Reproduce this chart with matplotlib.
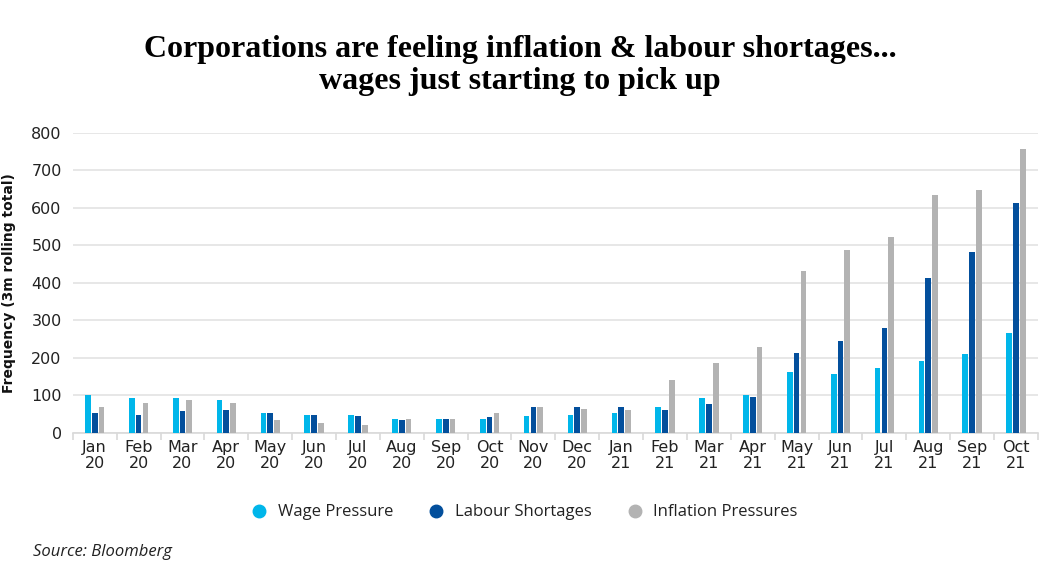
import numpy as np
import matplotlib
matplotlib.use("Agg")
import matplotlib.pyplot as plt
from matplotlib.lines import Line2D

months = ["Jan\n20", "Feb\n20", "Mar\n20", "Apr\n20", "May\n20", "Jun\n20", "Jul\n20",
          "Aug\n20", "Sep\n20", "Oct\n20", "Nov\n20", "Dec\n20", "Jan\n21", "Feb\n21",
          "Mar\n21", "Apr\n21", "May\n21", "Jun\n21", "Jul\n21", "Aug\n21", "Sep\n21", "Oct\n21"]
wage = [100, 93, 94, 89, 53, 47, 47, 38, 36, 36, 46, 47, 53, 69, 93, 101, 163, 157, 174, 192, 210, 267]
labour = [52, 47, 59, 60, 54, 47, 44, 35, 36, 42, 70, 69, 69, 60, 76, 97, 212, 246, 280, 413, 483, 614]
inflation = [68, 80, 89, 80, 34, 26, 22, 37, 38, 52, 68, 65, 62, 140, 187, 230, 431, 488, 522, 634, 649, 757]
series_names = ["Wage Pressure", "Labour Shortages", "Inflation Pressures"]

c_wage = "#00B6EA"
c_lab = "#034F9C"
c_inf = "#B3B3B3"

plt.rcParams["font.family"] = ["DejaVu Sans"]

fig = plt.figure(figsize=(10.4, 5.7), dpi=100)
ax = fig.add_axes([0.07, 0.2404, 0.928, 0.5263])

x = np.arange(len(months))
w = 0.13
off = 0.155
ax.bar(x - off, wage, w, color=c_wage, zorder=3)
ax.bar(x, labour, w, color=c_lab, zorder=3)
ax.bar(x + off, inflation, w, color=c_inf, zorder=3)

ax.set_xlim(-0.5, len(months) - 0.5)
ax.set_ylim(0, 800)
ax.set_yticks(range(0, 801, 100))
ax.yaxis.grid(True, color="#e3e3e3", linewidth=1.2, zorder=0)
ax.set_axisbelow(True)
for s in ["top", "right", "left"]:
    ax.spines[s].set_visible(False)
ax.spines["bottom"].set_color("#d9d9d9")
ax.spines["bottom"].set_linewidth(1.2)

ax.set_xticks(x)
ax.set_xticklabels(months, fontsize=11.5, color="#222222", linespacing=1.1)
ax.set_xticks(np.arange(-0.5, len(months), 1), minor=True)
ax.tick_params(axis="x", which="major", length=0, pad=5)
ax.tick_params(axis="x", which="minor", length=5, color="#d9d9d9", width=1.2)
ax.tick_params(axis="y", length=0, labelsize=11.5, labelcolor="#222222", pad=8)

ax.set_ylabel("Frequency (3m rolling total)", fontsize=10, fontweight="bold", color="#111111")
ax.yaxis.set_label_coords(-0.059, 0.5)

fig.text(0.5, 0.885, "Corporations are feeling inflation & labour shortages...\nwages just starting to pick up",
         ha="center", va="center", fontsize=23, fontweight="bold", family="Liberation Serif",
         linespacing=1.15, color="#000000")

handles = [Line2D([], [], marker="o", linestyle="", markersize=9, color=c) for c in (c_wage, c_lab, c_inf)]
fig.legend(handles, series_names,
           loc="center", bbox_to_anchor=(0.5, 0.101), bbox_transform=fig.transFigure,
           ncol=3, frameon=False, handletextpad=0.1, columnspacing=1.6,
           labelcolor="#222222", prop={"family": "Open Sans", "size": 12})

fig.text(0.032, 0.025, "Source: Bloomberg", fontsize=12, style="italic", color="#222222", family="Open Sans")

fig.savefig("out.png", dpi=100)
